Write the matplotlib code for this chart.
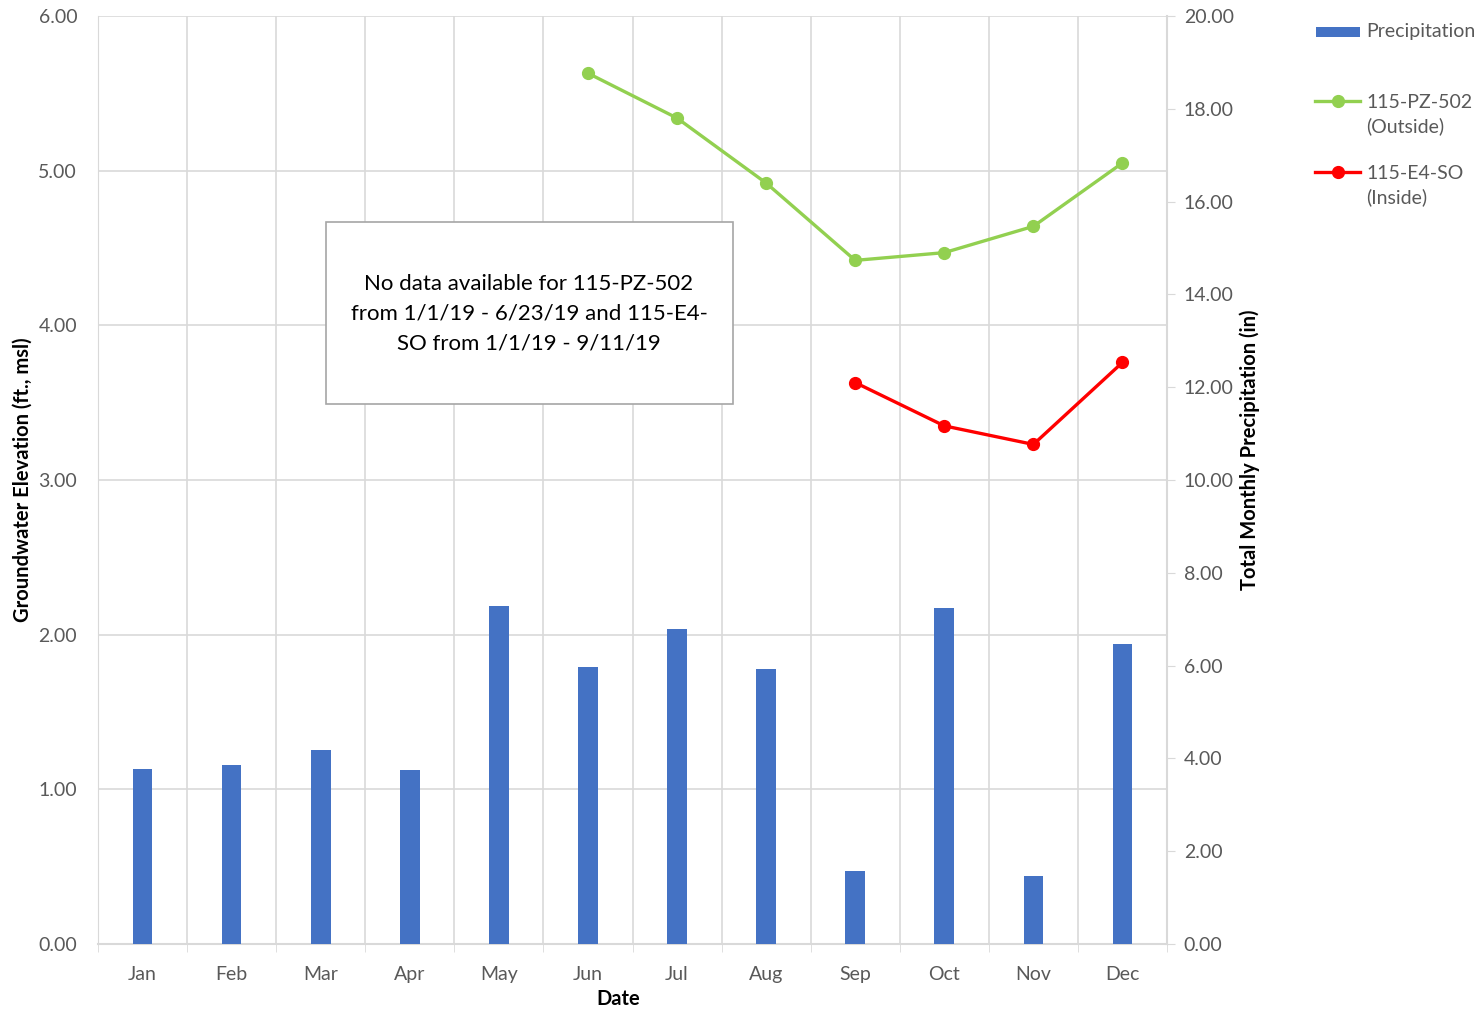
import numpy as np
import matplotlib.pyplot as plt
from matplotlib.lines import Line2D
from matplotlib.patches import Rectangle

plt.rcParams['font.family'] = ['Lato', 'DejaVu Sans']

months = ["Jan", "Feb", "Mar", "Apr", "May", "Jun", "Jul", "Aug", "Sep", "Oct", "Nov", "Dec"]
precip = [3.77, 3.86, 4.18, 3.75, 7.28, 5.97, 6.79, 5.93, 1.57, 7.24, 1.47, 6.47]
pz502_months = ["Jun", "Jul", "Aug", "Sep", "Oct", "Nov", "Dec"]
pz502 = [5.63, 5.34, 4.92, 4.42, 4.47, 4.64, 5.05]
e4so_months = ["Sep", "Oct", "Nov", "Dec"]
e4so = [3.63, 3.35, 3.23, 3.76]

tc = "#595959"
gc = "#D9D9D9"
W, H = 1479, 1011

fig = plt.figure(figsize=(W / 100, H / 100), dpi=100)
ax = fig.add_axes([98 / W, 1 - 944 / H, (1167 - 98) / W, (944 - 16) / H])
ax2 = ax.twinx()   # precipitation bars
ax3 = ax.twinx()   # groundwater lines on top

x = np.arange(len(months))
ax2.bar(x, precip, width=0.22, color="#4472C4", zorder=2)
ax2.set_ylim(0, 20)
ax2.set_yticks(np.arange(0, 21, 2))
ax2.set_yticklabels([f"{v:.2f}" for v in np.arange(0, 21, 2)])

xi = [months.index(m) for m in pz502_months]
ax3.plot(xi, pz502, color="#92D050", lw=2.4, marker="o", ms=8.5)
xi = [months.index(m) for m in e4so_months]
ax3.plot(xi, e4so, color="#FF0000", lw=2.4, marker="o", ms=8.5)
ax3.set_ylim(0, 6)
ax3.set_yticks([])

ax.set_ylim(0, 6)
ax.set_yticks(np.arange(0, 7, 1))
ax.set_yticklabels([f"{v:.2f}" for v in np.arange(0, 7, 1)])
ax.set_xlim(-0.5, 11.5)
ax.set_xticks(x)
ax.set_xticklabels(months)
ax.set_xticks(np.arange(-0.5, 12, 1), minor=True)
ax.tick_params(axis="x", which="major", length=0, colors=tc, labelsize=14, pad=16)
ax.tick_params(axis="x", which="minor", length=6, color=gc)
ax.tick_params(axis="y", length=0, colors=tc, labelsize=14, pad=15)
ax2.tick_params(axis="y", length=6, color=gc, colors=tc, labelsize=14, pad=6)

ax.grid(True, axis="y", color=gc, lw=1.2)
ax.grid(True, axis="x", which="minor", color=gc, lw=1.2)
for a in (ax, ax2, ax3):
    for s in a.spines.values():
        s.set_visible(False)
ax.spines["bottom"].set_visible(True)
ax.spines["bottom"].set_color(gc)
ax.spines["bottom"].set_linewidth(1.5)
ax.spines["left"].set_visible(True)
ax.spines["left"].set_color(gc)
ax2.spines["right"].set_visible(True)
ax2.spines["right"].set_color(gc)
ax2.spines["right"].set_linewidth(1.5)

ax.set_xlabel("Date", fontsize=14.5, fontweight="bold", color="black")
ax.xaxis.set_label_coords(0.487, -0.049)
ax.set_ylabel("Groundwater Elevation (ft., msl)", fontsize=14.5, fontweight="bold")
ax.yaxis.set_label_coords(-0.061, 0.5)
ax2.set_ylabel("Total Monthly Precipitation (in)", fontsize=14.5, fontweight="bold")
ax2.yaxis.set_label_coords(1.068, 0.533)

# annotation box
fig.add_artist(Rectangle((326 / W, 1 - 404 / H), (733 - 326) / W, (404 - 222) / H,
                         transform=fig.transFigure, fc="white", ec="#A6A6A6", lw=1.2, zorder=5))
fig.text(529 / W, 1 - 314 / H,
         "No data available for 115-PZ-502\nfrom 1/1/19 - 6/23/19 and 115-E4-\nSO from 1/1/19 - 9/11/19",
         ha="center", va="center", fontsize=16, linespacing=1.62, zorder=6)

# legend
fig.add_artist(Rectangle((1316 / W, 1 - 37 / H), 44 / W, 10 / H, transform=fig.transFigure,
                         fc="#4472C4", ec="none"))
fig.text(1366 / W, 1 - 32 / H, "Precipitation", fontsize=14, color=tc, va="center")
for y0, col, lab in [(101, "#92D050", "115-PZ-502\n(Outside)"), (172, "#FF0000", "115-E4-SO\n(Inside)")]:
    fig.add_artist(Line2D([1315 / W, 1360 / W], [1 - y0 / H] * 2, transform=fig.transFigure,
                          color=col, lw=2.4))
    fig.add_artist(Line2D([1338 / W], [1 - y0 / H], transform=fig.transFigure,
                          color=col, marker="o", ms=8.5))
    fig.text(1366 / W, 1 - (y0 - 7) / H, lab, fontsize=14, color=tc, va="top", linespacing=1.45)

fig.savefig("out.png", dpi=100)
